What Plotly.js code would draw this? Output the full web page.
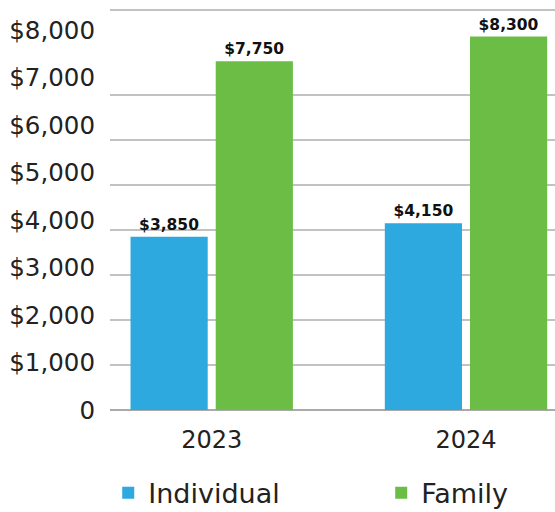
<!DOCTYPE html>
<html>
<head>
<meta charset="utf-8">
<script src="https://cdn.plot.ly/plotly-3.0.1.min.js"></script>
<style>html,body{margin:0;padding:0;background:#fff}#chart{width:555px;height:512px}</style>
</head>
<body>
<div id="chart"></div>
<script>
const years = ['2023', '2024'];
const individual = [3850, 4150];
const family = [7750, 8300];
const seriesNames = ['Individual', 'Family'];
const yTickVals = [0, 1000, 2000, 3000, 4000, 5000, 6000, 7000, 8000];
const yTickText = ['0', '$1,000', '$2,000', '$3,000', '$4,000', '$5,000', '$6,000', '$7,000', '$8,000'];
const gridVals = [0, 1000, 2000, 3000, 4000, 5000, 6000, 7000];

const font = 'DejaVu Sans, Verdana, sans-serif';
const labelFont = {family: font, size: 15.5, color: '#111', weight: 'bold'};

const traces = [
  {type: 'bar', name: seriesNames[0], x: years, y: individual,
   marker: {color: '#2ea9df'}, texttemplate: '$%{y:,}', textposition: 'outside',
   textfont: labelFont, cliponaxis: false, hoverinfo: 'skip'},
  {type: 'bar', name: seriesNames[1], x: years, y: family,
   marker: {color: '#6cbd45'}, texttemplate: '$%{y:,}', textposition: 'outside',
   textfont: labelFont, cliponaxis: false, hoverinfo: 'skip'},
  {type: 'scatter', mode: 'markers', x: years, y: individual, yaxis: 'y2',
   marker: {opacity: 0}, showlegend: false, hoverinfo: 'skip'}
];

const layout = {
  width: 555, height: 512,
  margin: {l: 110, r: 0, t: 10, b: 102, autoexpand: false},
  paper_bgcolor: '#fff', plot_bgcolor: '#fff',
  font: {family: font, color: '#333'},
  barmode: 'group', bargap: 0.33, bargroupgap: 0.094,
  xaxis: {type: 'category', range: [-0.4, 1.35], showgrid: false, zeroline: false, showline: false,
          ticks: '', tickfont: {size: 24, color: '#222', family: font}, ticklabelstandoff: 13},
  yaxis: {range: [0, 8889], tickvals: gridVals, showticklabels: false,
          showgrid: true, gridcolor: '#c2c2c2', gridwidth: 1.5,
          zeroline: true, zerolinecolor: '#aaaaaa', zerolinewidth: 2, showline: false},
  yaxis2: {overlaying: 'y', side: 'left', range: [0, 8421], tickvals: yTickVals, ticktext: yTickText,
           showgrid: false, zeroline: false, showline: false, ticks: '',
           tickfont: {size: 24.5, color: '#222', family: font}, ticklabelstandoff: 14},
  shapes: [{type: 'line', xref: 'paper', yref: 'paper', x0: 0, x1: 1, y0: 1, y1: 1,
            line: {color: '#c2c2c2', width: 2}}],
  showlegend: true,
  legend: {orientation: 'h', x: -0.004, xanchor: 'left', y: -0.208, yanchor: 'middle',
           font: {size: 27, color: '#222', family: font},
           entrywidth: 228, entrywidthmode: 'pixels', itemwidth: 30, bgcolor: 'rgba(0,0,0,0)'}
};

Plotly.newPlot('chart', traces, layout, {displayModeBar: false, staticPlot: true});
</script>
</body>
</html>
